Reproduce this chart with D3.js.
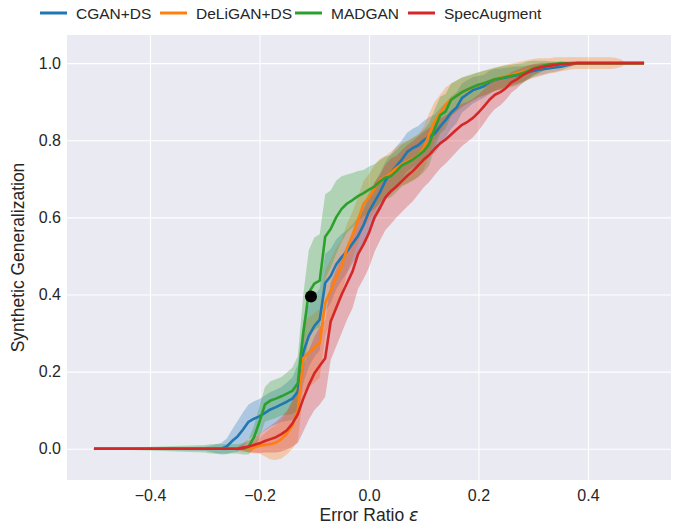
<!DOCTYPE html>
<html>
<head>
<meta charset="utf-8">
<script src="https://cdn.jsdelivr.net/npm/d3@7"></script>
<style>
  body { margin: 0; background: #fff; }
  text { font-family: "Liberation Sans", Arial, sans-serif; fill: #262626; }
</style>
</head>
<body>
<div id="chart"></div>
<script>
// DATA
const seriesNames = ["CGAN+DS", "DeLiGAN+DS", "MADGAN", "SpecAugment"];
const colors = ["#1f77b4", "#ff7f0e", "#2ca02c", "#d62728"];

// error ratio sample points
const xs = [-0.50,
  -0.30, -0.29, -0.28, -0.27, -0.26, -0.25, -0.24, -0.23, -0.22, -0.21,
  -0.20, -0.19, -0.18, -0.17, -0.16, -0.15, -0.14, -0.13, -0.12, -0.11,
  -0.10, -0.09, -0.08, -0.07, -0.06, -0.05, -0.04, -0.03, -0.02, -0.01,
  0.00, 0.01, 0.02, 0.03, 0.04, 0.05, 0.06, 0.07, 0.08, 0.09,
  0.10, 0.11, 0.12, 0.13, 0.14, 0.15, 0.16, 0.17, 0.18, 0.19,
  0.20, 0.21, 0.22, 0.23, 0.24, 0.25, 0.26, 0.27, 0.28, 0.29,
  0.30, 0.31, 0.32, 0.33, 0.34, 0.35, 0.36, 0.37, 0.38, 0.39,
  0.40, 0.41, 0.42, 0.43, 0.44, 0.45, 0.46, 0.47, 0.48, 0.49, 0.50];

const cganMean = [0,
  0, 0, 0, 0, 0.006, 0.02, 0.032, 0.05, 0.07, 0.078,
  0.084, 0.093, 0.102, 0.108, 0.115, 0.122, 0.13, 0.148, 0.25, 0.292,
  0.318, 0.335, 0.43, 0.448, 0.478, 0.497, 0.512, 0.532, 0.552, 0.58,
  0.615, 0.64, 0.665, 0.695, 0.715, 0.733, 0.75, 0.77, 0.78, 0.787,
  0.80, 0.81, 0.817, 0.836, 0.852, 0.872, 0.885, 0.91, 0.92, 0.93,
  0.935, 0.94, 0.95, 0.957, 0.96, 0.963, 0.966, 0.969, 0.972, 0.976,
  0.98, 0.983, 0.985, 0.987, 0.989, 0.991, 0.994, 0.997, 1, 1,
  1, 1, 1, 1, 1, 1, 1, 1, 1, 1, 1];
const cganSpread = [0,
  0.005, 0.008, 0.012, 0.015, 0.02, 0.03, 0.04, 0.045, 0.045, 0.045,
  0.045, 0.045, 0.045, 0.045, 0.045, 0.05, 0.055, 0.07, 0.08, 0.08,
  0.08, 0.08, 0.075, 0.07, 0.065, 0.06, 0.055, 0.05, 0.05, 0.05,
  0.05, 0.05, 0.05, 0.05, 0.05, 0.05, 0.05, 0.05, 0.05, 0.05,
  0.05, 0.05, 0.05, 0.048, 0.045, 0.042, 0.04, 0.038, 0.036, 0.034,
  0.032, 0.03, 0.03, 0.028, 0.026, 0.025, 0.024, 0.022, 0.02, 0.018,
  0.016, 0.015, 0.014, 0.012, 0.011, 0.01, 0.008, 0.006, 0.004, 0.002,
  0, 0, 0, 0, 0, 0, 0, 0, 0, 0, 0];

const deliMean = [0,
  0, 0, 0, 0, 0, 0, 0, 0, 0, 0.003,
  0.008, 0.01, 0.012, 0.016, 0.025, 0.04, 0.06, 0.1, 0.235, 0.25,
  0.262, 0.274, 0.378, 0.41, 0.445, 0.473, 0.52, 0.555, 0.594, 0.635,
  0.652, 0.675, 0.697, 0.705, 0.715, 0.728, 0.738, 0.745, 0.752, 0.76,
  0.78, 0.815, 0.85, 0.87, 0.892, 0.905, 0.915, 0.925, 0.93, 0.938,
  0.943, 0.948, 0.953, 0.958, 0.962, 0.966, 0.97, 0.974, 0.978, 0.982,
  0.986, 0.989, 0.991, 0.993, 0.995, 0.997, 0.998, 1, 1, 1,
  1, 1, 1, 1, 1, 1, 1, 1, 1, 1, 1];
const deliSpread = [0,
  0, 0, 0, 0, 0, 0, 0, 0.005, 0.01, 0.015,
  0.02, 0.03, 0.04, 0.045, 0.05, 0.055, 0.06, 0.08, 0.09, 0.09,
  0.09, 0.09, 0.085, 0.08, 0.075, 0.07, 0.065, 0.06, 0.06, 0.06,
  0.06, 0.06, 0.055, 0.055, 0.055, 0.055, 0.055, 0.055, 0.055, 0.055,
  0.055, 0.055, 0.05, 0.048, 0.045, 0.042, 0.04, 0.038, 0.036, 0.034,
  0.032, 0.032, 0.031, 0.03, 0.03, 0.03, 0.029, 0.028, 0.027, 0.026,
  0.025, 0.024, 0.022, 0.02, 0.02, 0.018, 0.017, 0.016, 0.015, 0.015,
  0.015, 0.015, 0.015, 0.015, 0.015, 0.014, 0.01, 0, 0, 0, 0];

const madMean = [0,
  0, 0, 0, 0, 0, 0, 0, 0, 0.005, 0.03,
  0.07, 0.115, 0.125, 0.13, 0.136, 0.143, 0.15, 0.17, 0.30, 0.405,
  0.428, 0.436, 0.55, 0.57, 0.6, 0.622, 0.636, 0.645, 0.655, 0.663,
  0.672, 0.68, 0.693, 0.703, 0.707, 0.72, 0.735, 0.742, 0.75, 0.76,
  0.772, 0.79, 0.83, 0.865, 0.875, 0.905, 0.915, 0.925, 0.932, 0.938,
  0.944, 0.948, 0.953, 0.958, 0.961, 0.964, 0.967, 0.97, 0.974, 0.98,
  0.986, 0.99, 0.994, 0.997, 0.998, 1, 1, 1, 1, 1,
  1, 1, 1, 1, 1, 1, 1, 1, 1, 1, 1];
const madSpread = [0,
  0.01, 0.012, 0.012, 0.012, 0.012, 0.012, 0.012, 0.015, 0.02, 0.03,
  0.04, 0.045, 0.05, 0.05, 0.05, 0.055, 0.06, 0.07, 0.1, 0.11,
  0.12, 0.12, 0.11, 0.1, 0.095, 0.085, 0.075, 0.07, 0.065, 0.06,
  0.06, 0.058, 0.056, 0.055, 0.055, 0.055, 0.055, 0.055, 0.055, 0.055,
  0.055, 0.055, 0.05, 0.048, 0.045, 0.042, 0.04, 0.038, 0.036, 0.034,
  0.033, 0.032, 0.031, 0.03, 0.03, 0.03, 0.029, 0.028, 0.026, 0.024,
  0.02, 0.016, 0.012, 0.008, 0.006, 0.004, 0.002, 0, 0, 0,
  0, 0, 0, 0, 0, 0, 0, 0, 0, 0, 0];

const specMean = [0,
  0, 0, 0, 0, 0, 0, 0, 0.003, 0.006, 0.01,
  0.014, 0.02, 0.025, 0.03, 0.038, 0.048, 0.065, 0.09, 0.13, 0.165,
  0.195, 0.215, 0.235, 0.33, 0.365, 0.4, 0.43, 0.46, 0.505, 0.53,
  0.56, 0.6, 0.625, 0.652, 0.668, 0.68, 0.694, 0.708, 0.72, 0.735,
  0.75, 0.762, 0.778, 0.792, 0.802, 0.815, 0.828, 0.84, 0.848, 0.858,
  0.872, 0.888, 0.905, 0.918, 0.925, 0.935, 0.95, 0.958, 0.968, 0.976,
  0.984, 0.988, 0.991, 0.993, 0.995, 0.997, 0.998, 0.999, 1, 1,
  1, 1, 1, 1, 1, 1, 1, 1, 1, 1, 1];
const specSpread = [0,
  0, 0, 0, 0, 0, 0, 0.005, 0.01, 0.015, 0.02,
  0.025, 0.03, 0.035, 0.04, 0.045, 0.05, 0.06, 0.075, 0.085, 0.09,
  0.095, 0.1, 0.1, 0.1, 0.1, 0.1, 0.095, 0.095, 0.09, 0.09,
  0.09, 0.09, 0.085, 0.085, 0.085, 0.08, 0.08, 0.08, 0.078, 0.075,
  0.072, 0.07, 0.068, 0.065, 0.062, 0.06, 0.058, 0.055, 0.052, 0.05,
  0.047, 0.044, 0.04, 0.037, 0.034, 0.03, 0.027, 0.024, 0.02, 0.017,
  0.014, 0.012, 0.01, 0.008, 0.007, 0.006, 0.005, 0.004, 0.003, 0.002,
  0, 0, 0, 0, 0, 0, 0, 0, 0, 0, 0];

const means = [cganMean, deliMean, madMean, specMean];
const spreads = [cganSpread, deliSpread, madSpread, specSpread];

// highlighted point
const markX = [-0.106];
const markY = [0.395];

const xTicks = [-0.4, -0.2, 0.0, 0.2, 0.4];
const yTicks = [0.0, 0.2, 0.4, 0.6, 0.8, 1.0];

// CONSTANTS
const width = 687;
const height = 526;
const margin = {top: 35, right: 16, bottom: 46, left: 67};

// SCALES
const xScale = d3.scaleLinear()
  .domain([-0.5516, 0.5516])
  .range([margin.left, width - margin.right]);

const yScale = d3.scaleLinear()
  .domain([-0.081, 1.073])
  .range([height - margin.bottom, margin.top]);

// SVG
const svg = d3.select("#chart")
  .append("svg")
  .attr("width", width)
  .attr("height", height);

// plot background
svg.append("rect")
  .attr("x", margin.left)
  .attr("y", margin.top)
  .attr("width", width - margin.left - margin.right)
  .attr("height", height - margin.top - margin.bottom)
  .attr("fill", "#eaeaf2");

// AXES (grid lines + labels, no ticks)
const xAxis = d3.axisBottom(xScale)
  .tickValues(xTicks)
  .tickFormat(d3.format(".1f"))
  .tickSize(-(height - margin.top - margin.bottom))
  .tickPadding(10);

const yAxis = d3.axisLeft(yScale)
  .tickValues(yTicks)
  .tickFormat(d3.format(".1f"))
  .tickSize(-(width - margin.left - margin.right))
  .tickPadding(6);

const xAxisGroup = svg.append("g")
  .attr("class", "xAxis")
  .attr("transform", `translate(0, ${height - margin.bottom})`)
  .call(xAxis);

const yAxisGroup = svg.append("g")
  .attr("class", "yAxis")
  .attr("transform", `translate(${margin.left}, 0)`)
  .call(yAxis);

[xAxisGroup, yAxisGroup].forEach(g => {
  g.select(".domain").remove();
  g.selectAll(".tick line").attr("stroke", "#ffffff").attr("stroke-width", 1.1);
  g.selectAll(".tick text")
    .attr("font-size", 16)
    .attr("fill", "#262626")
    .style("font-family", "'Liberation Sans', Arial, sans-serif");
});

// clip to plot area
svg.append("clipPath")
  .attr("id", "clip")
  .append("rect")
  .attr("x", margin.left)
  .attr("y", margin.top)
  .attr("width", width - margin.left - margin.right)
  .attr("height", height - margin.top - margin.bottom);

const plot = svg.append("g").attr("clip-path", "url(#clip)");

// BANDS (drawn under all lines)
const area = d3.area()
  .x(d => xScale(d.x))
  .y0(d => yScale(d.m - d.s))
  .y1(d => yScale(d.m + d.s));

const line = d3.line()
  .x(d => xScale(d.x))
  .y(d => yScale(d.m));

const rows = means.map((m, k) => xs.map((x, i) => ({x: x, m: m[i], s: spreads[k][i]})));

plot.selectAll(".band")
  .data(rows)
  .join("path")
  .attr("class", "band")
  .attr("d", area)
  .attr("fill", (d, i) => colors[i])
  .attr("fill-opacity", 0.3)
  .attr("stroke", "none");

// LINES
plot.selectAll(".series")
  .data(rows)
  .join("path")
  .attr("class", "series")
  .attr("d", line)
  .attr("fill", "none")
  .attr("stroke", (d, i) => colors[i])
  .attr("stroke-width", 2.6)
  .attr("stroke-linejoin", "round")
  .attr("stroke-linecap", "square");

// marker
plot.selectAll(".mark")
  .data(markX)
  .join("circle")
  .attr("class", "mark")
  .attr("cx", d => xScale(d))
  .attr("cy", (d, i) => yScale(markY[i]))
  .attr("r", 6)
  .attr("fill", "#000");

// axis titles
svg.append("text")
  .attr("x", (margin.left + width - margin.right) / 2)
  .attr("y", 521)
  .attr("text-anchor", "middle")
  .attr("font-size", 17.5)
  .text("Error Ratio ")
  .append("tspan")
  .attr("font-style", "italic")
  .style("font-family", "'DejaVu Sans', sans-serif")
  .text("ε");

svg.append("text")
  .attr("transform", `translate(24, ${(margin.top + height - margin.bottom) / 2}) rotate(-90)`)
  .attr("text-anchor", "middle")
  .attr("font-size", 17.5)
  .text("Synthetic Generalization");

// LEGEND
const legendX = [40, 160, 295, 408];
const legend = svg.append("g").attr("class", "legend");
seriesNames.forEach((name, i) => {
  legend.append("line")
    .attr("x1", legendX[i]).attr("x2", legendX[i] + 27)
    .attr("y1", 13).attr("y2", 13)
    .attr("stroke", colors[i])
    .attr("stroke-width", 3);
  legend.append("text")
    .attr("x", legendX[i] + 36)
    .attr("y", 18.5)
    .attr("font-size", 15.5)
    .text(name);
});
</script>
</body>
</html>
